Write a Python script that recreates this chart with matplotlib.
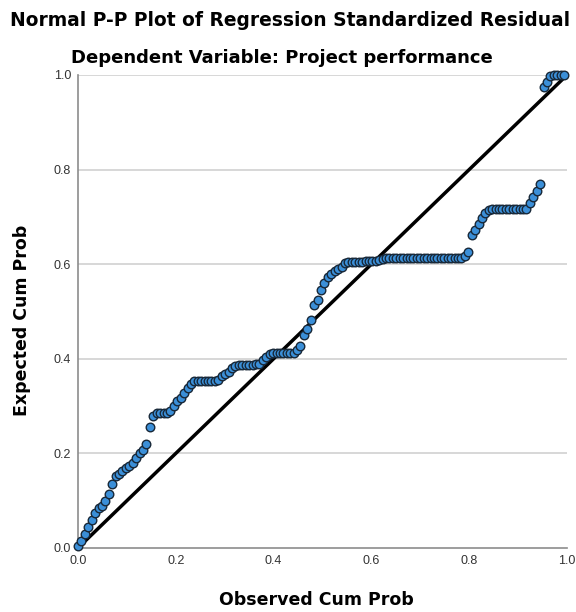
"""
plot.py
-------
Normal P-P plot of regression standardized residuals (SPSS style).
Observed cumulative probability on x, expected cumulative probability on y.
"""

import matplotlib
matplotlib.use("Agg")          # no display in the sandbox
import matplotlib.pyplot as plt

plt.rcParams["font.family"] = ["Liberation Sans", "DejaVu Sans"]

# ---------------------------------------------------------------------------
# Data
# ---------------------------------------------------------------------------

observed_cum_prob = [
    0.000, 0.007, 0.014, 0.021, 0.028, 0.035, 0.042, 0.049, 0.056, 0.063,
    0.070, 0.077, 0.084, 0.091, 0.098, 0.105, 0.112, 0.119, 0.126, 0.133,
    0.140, 0.147, 0.154, 0.161, 0.168, 0.175, 0.182, 0.189, 0.196, 0.203,
    0.210, 0.217, 0.224, 0.231, 0.238, 0.245, 0.252, 0.259, 0.266, 0.273,
    0.280, 0.287, 0.294, 0.301, 0.308, 0.315, 0.322, 0.329, 0.336, 0.343,
    0.350, 0.357, 0.364, 0.371, 0.378, 0.385, 0.392, 0.399, 0.406, 0.413,
    0.420, 0.427, 0.434, 0.441, 0.448, 0.455, 0.462, 0.469, 0.476, 0.483,
    0.490, 0.497, 0.504, 0.511, 0.518, 0.525, 0.532, 0.539, 0.546, 0.553,
    0.560, 0.567, 0.574, 0.581, 0.588, 0.595, 0.602, 0.609, 0.616, 0.623,
    0.630, 0.637, 0.644, 0.651, 0.658, 0.665, 0.672, 0.679, 0.686, 0.693,
    0.700, 0.707, 0.714, 0.721, 0.728, 0.735, 0.742, 0.749, 0.756, 0.763,
    0.770, 0.777, 0.784, 0.791, 0.798, 0.805, 0.812, 0.819, 0.826, 0.833,
    0.840, 0.847, 0.854, 0.861, 0.868, 0.875, 0.882, 0.889, 0.896, 0.903,
    0.910, 0.917, 0.924, 0.931, 0.938, 0.945, 0.952, 0.959, 0.966, 0.973,
    0.980, 0.987, 0.994,
]

expected_cum_prob = [
    0.005, 0.015, 0.030, 0.045, 0.060, 0.075, 0.085, 0.088, 0.100, 0.115,
    0.135, 0.153, 0.157, 0.162, 0.170, 0.174, 0.180, 0.190, 0.200, 0.207,
    0.220, 0.255, 0.280, 0.286, 0.286, 0.286, 0.286, 0.290, 0.300, 0.310,
    0.318, 0.328, 0.338, 0.347, 0.352, 0.352, 0.352, 0.352, 0.352, 0.352,
    0.352, 0.356, 0.363, 0.368, 0.373, 0.380, 0.385, 0.387, 0.387, 0.387,
    0.387, 0.387, 0.388, 0.390, 0.398, 0.403, 0.410, 0.412, 0.412, 0.412,
    0.412, 0.412, 0.412, 0.413, 0.418, 0.426, 0.450, 0.462, 0.482, 0.514,
    0.524, 0.545, 0.560, 0.572, 0.580, 0.586, 0.590, 0.595, 0.602, 0.605,
    0.605, 0.605, 0.605, 0.605, 0.606, 0.606, 0.606, 0.607, 0.608, 0.611,
    0.612, 0.612, 0.612, 0.612, 0.612, 0.612, 0.612, 0.612, 0.612, 0.612,
    0.612, 0.612, 0.612, 0.612, 0.612, 0.612, 0.612, 0.612, 0.612, 0.612,
    0.612, 0.612, 0.613, 0.618, 0.626, 0.662, 0.672, 0.685, 0.698, 0.708,
    0.714, 0.716, 0.716, 0.716, 0.716, 0.716, 0.716, 0.716, 0.716, 0.716,
    0.716, 0.716, 0.730, 0.742, 0.755, 0.770, 0.975, 0.985, 0.998, 1.000,
    1.000, 1.000, 1.000,
]

ticks = [0.0, 0.2, 0.4, 0.6, 0.8, 1.0]
tick_labels = ["0.0", "0.2", "0.4", "0.6", "0.8", "1.0"]

title = "Normal P-P Plot of Regression Standardized Residual"
subtitle = "Dependent Variable: Project performance"

# ---------------------------------------------------------------------------
# Figure
# ---------------------------------------------------------------------------

fig = plt.figure(figsize=(5.76, 6.12), dpi=100)
ax = fig.add_axes([0.1354, 0.1046, 0.8490, 0.7729])

# horizontal grid lines only, behind everything
for t in ticks[1:]:
    ax.axhline(t, color="#d4d4d4", linewidth=1.3, zorder=0)

# reference diagonal
ax.plot([0, 1], [0, 1], color="black", linewidth=2.5, zorder=2)

ax.scatter(
    observed_cum_prob,
    expected_cum_prob,
    s=38,
    facecolor="#3b8fd8",
    edgecolor="#182838",
    linewidth=1.0,
    zorder=3,
    clip_on=False,
)

ax.set_xlim(0, 1)
ax.set_ylim(0, 1)
ax.set_xticks(ticks)
ax.set_xticklabels(tick_labels)
ax.set_yticks(ticks)
ax.set_yticklabels(tick_labels)
ax.tick_params(length=0, labelsize=9, labelcolor="#333333", pad=5)

for side in ("top", "right"):
    ax.spines[side].set_visible(False)
for side in ("left", "bottom"):
    ax.spines[side].set_color("#8c8c8c")
    ax.spines[side].set_linewidth(1.2)

# titles and axis labels placed in figure coordinates; the wider DejaVu
# face is closer to the stretched lettering of the original
wide = ["DejaVu Sans"]
fig.text(0.503, 0.967, title, ha="center", va="center",
         fontsize=13.4, fontweight="bold", family=wide)
fig.text(0.49, 0.905, subtitle, ha="center", va="center",
         fontsize=13, fontweight="bold", family=wide)
fig.text(0.55, 0.020, "Observed Cum Prob", ha="center", va="center",
         fontsize=12.5, fontweight="bold", family=wide)
fig.text(0.038, 0.477, "Expected Cum Prob", ha="center", va="center",
         rotation=90, fontsize=12.5, fontweight="bold", family=wide)

fig.savefig("out.png", dpi=100)
plt.close(fig)
